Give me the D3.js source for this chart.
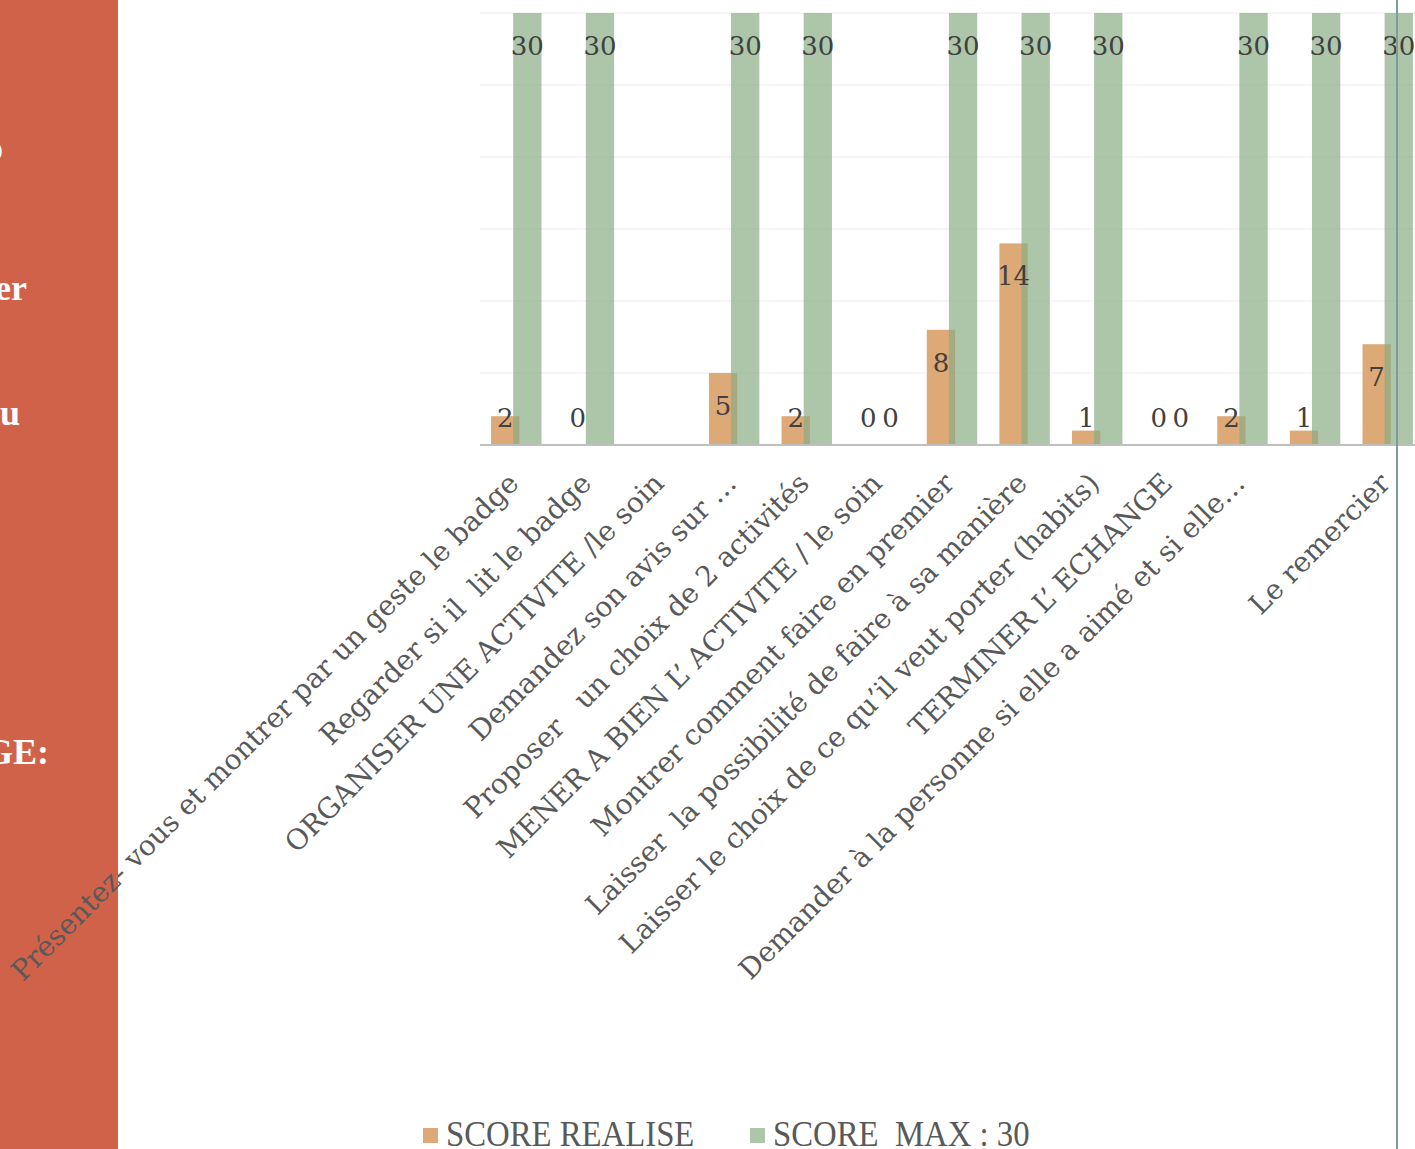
<!DOCTYPE html>
<html>
<head>
<meta charset="utf-8">
<script src="https://cdn.jsdelivr.net/npm/d3@7"></script>
<style>
  html, body { margin: 0; padding: 0; background: #ffffff; overflow: hidden; }
  svg { display: block; }
  text { white-space: pre; }
</style>
</head>
<body>
<svg id="chart" width="1415" height="1149"></svg>
<script>
// Steps of the care sequence (one bar group per step)
const categories = [
  "Présentez- vous et montrer par un geste le badge",
  "Regarder si il  lit le badge",
  "ORGANISER UNE ACTIVITE /le soin",
  "Demandez son avis sur …",
  "Proposer   un choix de 2 activités",
  "MENER A BIEN L’ ACTIVITE / le soin",
  "Montrer comment faire en premier",
  "Laisser  la possibilité de faire à sa manière",
  "Laisser le choix de ce qu’il veut porter (habits)",
  "TERMINER L’ ECHANGE",
  "Demander à la personne si elle a aimé et si elle…",
  "",
  "Le remercier"
];

// Score obtained and maximum score per step (null = no value)
const scoreRealise = [2, 0, null, 5, 2, 0, 8, 14, 1, 0, 2, 1, 7];
const scoreMax     = [30, 30, null, 30, 30, 0, 30, 30, 30, 0, 30, 30, 30];

const yTicks = [0, 5, 10, 15, 20, 25, 30];
const seriesNames = ["SCORE REALISE", "SCORE  MAX : 30"];
const seriesColors = ["#dca977", "#8aae86"];

// Fragments of the slide's side-panel heading
const panelWords = ["o", "er", "u", "GE:"];

const svg = d3.select("#chart");
const W = 1415, H = 1149;

// ---- side panel ----
svg.append("rect")
  .attr("x", 0).attr("y", 0).attr("width", 118).attr("height", H)
  .attr("fill", "#d0624a");

const panelPos = [[3, 160], [27, 300], [20, 425], [49, 764]];
svg.append("g").selectAll("text")
  .data(panelWords)
  .join("text")
  .attr("x", (d, i) => panelPos[i][0])
  .attr("y", (d, i) => panelPos[i][1])
  .attr("text-anchor", "end")
  .attr("font-family", "'Liberation Serif', serif")
  .attr("font-weight", "bold")
  .attr("font-size", 36)
  .attr("fill", "#ffffff")
  .text(d => d);

// ---- scales ----
const plotLeft = 480, plotRight = 1424, plotTop = 13, plotBottom = 445;

const x = d3.scaleBand()
  .domain(d3.range(categories.length))
  .range([plotLeft, plotRight])
  .padding(0);

const y = d3.scaleLinear()
  .domain([0, 30])
  .range([plotBottom, plotTop]);

const band = x.bandwidth();
const barW = band * 0.39;
const step = barW * 0.78;               // series overlap
const groupOffset = (band - (barW + step)) / 2;
const seriesX = (i, s) => x(i) + groupOffset + s * step;

// ---- gridlines ----
svg.append("g")
  .selectAll("line")
  .data(yTicks.filter(t => t > 0))
  .join("line")
  .attr("x1", plotLeft).attr("x2", W)
  .attr("y1", d => y(d)).attr("y2", d => y(d))
  .attr("stroke", "#eeeeee")
  .attr("stroke-width", 1.2);

// ---- bars ----
const series = [scoreRealise, scoreMax];
series.forEach((values, s) => {
  svg.append("g")
    .selectAll("rect")
    .data(values.map((v, i) => ({ v, i })).filter(d => d.v !== null && d.v > 0))
    .join("rect")
    .attr("x", d => seriesX(d.i, s))
    .attr("width", barW)
    .attr("y", d => y(d.v))
    .attr("height", d => y(0) - y(d.v))
    .attr("fill", seriesColors[s])
    .attr("fill-opacity", s === 1 ? 0.7 : 1);
});

// ---- category axis ----
svg.append("line")
  .attr("x1", plotLeft).attr("x2", W)
  .attr("y1", y(0)).attr("y2", y(0))
  .attr("stroke", "#bfbfbf")
  .attr("stroke-width", 2);

svg.append("g")
  .selectAll("text")
  .data(categories)
  .join("text")
  .attr("transform", (d, i) => `translate(${x(i) + band / 2 + 4},${y(0) + 40}) rotate(-45)`)
  .attr("text-anchor", "end")
  .attr("font-family", "'DejaVu Serif', serif")
  .attr("font-size", 28)
  .attr("fill", "#595959")
  .text(d => d);

// ---- data labels ----
series.forEach((values, s) => {
  svg.append("g")
    .selectAll("text")
    .data(values.map((v, i) => ({ v, i })).filter(d => d.v !== null))
    .join("text")
    .attr("x", d => seriesX(d.i, s) + barW / 2)
    .attr("y", d => Math.min(y(d.v) + 33, y(0) - 27))
    .attr("text-anchor", "middle")
    .attr("dominant-baseline", "central")
    .attr("font-family", "'DejaVu Serif', serif")
    .attr("font-size", 26)
    .attr("fill", "#404040")
    .text(d => d.v);
});

// ---- legend ----
const legendPos = [423, 750];
const legend = svg.append("g")
  .selectAll("g")
  .data(seriesNames)
  .join("g")
  .attr("transform", (d, i) => `translate(${legendPos[i]},0)`);

legend.append("rect")
  .attr("x", 0).attr("y", 1128)
  .attr("width", 15).attr("height", 15)
  .attr("fill", (d, i) => seriesColors[i])
  .attr("fill-opacity", (d, i) => i === 1 ? 0.7 : 1);

legend.append("text")
  .attr("transform", "translate(23,1146) scale(0.91,1)")
  .attr("font-family", "'Liberation Serif', serif")
  .attr("font-size", 36)
  .attr("fill", "#595959")
  .text(d => d);

// ---- slide divider ----
svg.append("line")
  .attr("x1", 1397).attr("x2", 1397)
  .attr("y1", 0).attr("y2", H)
  .attr("stroke", "#7e9c9e")
  .attr("stroke-width", 2);
</script>
</body>
</html>
